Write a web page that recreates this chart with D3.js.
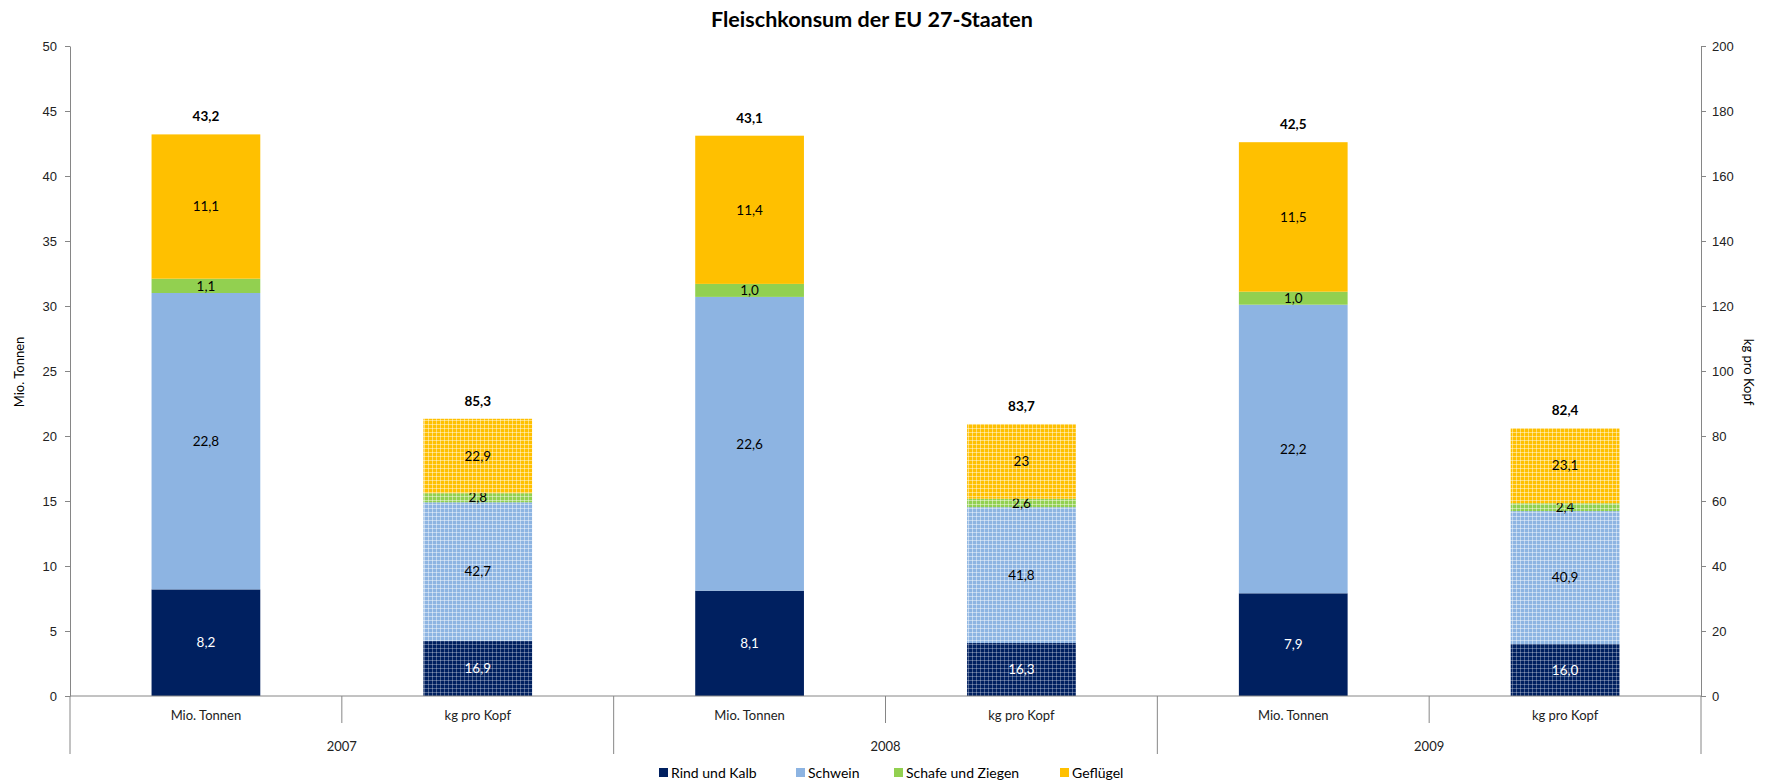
<!DOCTYPE html>
<html>
<head>
<meta charset="utf-8">
<script src="https://cdn.jsdelivr.net/npm/d3@7"></script>
<style>
	body { margin: 0; background: #fff; }
	svg { font-family: Lato, "Open Sans", sans-serif; }
	.axis path, .axis line { stroke: #868686; }
	.axis text { font-size: 13px; fill: #222; }
	.catlabel { font-size: 14px; }
</style>
</head>
<body>
<svg id="chart" width="1769" height="784"></svg>
<script>
// chart data
var years = ["2007", "2008", "2009"];
var measures = ["Mio. Tonnen", "kg pro Kopf"];
var seriesNames = ["Rind und Kalb", "Schwein", "Schafe und Ziegen", "Geflügel"];
// one value per bar: 2007 t, 2007 kg, 2008 t, 2008 kg, 2009 t, 2009 kg
var rindKalb     = [8.2, 16.9, 8.1, 16.3, 7.9, 16.0];
var schwein      = [22.8, 42.7, 22.6, 41.8, 22.2, 40.9];
var schafeZiegen = [1.1, 2.8, 1.0, 2.6, 1.0, 2.4];
var gefluegel    = [11.1, 22.9, 11.4, 23, 11.5, 23.1];
var totals       = [43.2, 85.3, 43.1, 83.7, 42.5, 82.4];
var leftTicks  = [0, 5, 10, 15, 20, 25, 30, 35, 40, 45, 50];
var rightTicks = [0, 20, 40, 60, 80, 100, 120, 140, 160, 180, 200];
// labels the source printed without a decimal (bar-series)
var wholeLabels = ["3-3"];

var colors = ["#002060", "#8DB4E2", "#92D050", "#FFC000"];

drawChart();

function drawChart() {
	var svg = d3.select("#chart");
	var left = 70, right = 1701, top = 46, bottom = 696, axisFoot = 754;

	var de = d3.formatLocale({decimal: ",", thousands: ".", grouping: [3], currency: ["", "€"]});
	var fmt = de.format(".1f");

	// build rows for the stack
	var serieArrays = [rindKalb, schwein, schafeZiegen, gefluegel];
	var rows = [];
	years.forEach(function(y, yi) {
		measures.forEach(function(m, mi) {
			var i = yi * measures.length + mi;
			var row = {idx: i, year: y, measure: m, kg: mi == 1, total: totals[i]};
			seriesNames.forEach(function(s, si) { row[s] = serieArrays[si][i]; });
			rows.push(row);
		});
	});

	var x = d3.scaleBand()
		.domain(rows.map(function(d) { return d.idx; }))
		.range([left, right])
		.paddingInner(0.6)
		.paddingOuter(0.3);
	var xYear = d3.scaleBand().domain(years).range([left, right]);

	var yLeft = d3.scaleLinear().domain([0, 50]).range([bottom, top]);
	var yRight = d3.scaleLinear().domain([0, 200]).range([bottom, top]);
	function yFor(d) { return d.kg ? yRight : yLeft; }

	// hatched patterns for the kg bars
	var defs = svg.append("defs");
	colors.forEach(function(c, i) {
		var p = defs.append("pattern")
			.attr("id", "pat" + i)
			.attr("patternUnits", "userSpaceOnUse")
			.attr("width", 4).attr("height", 4);
		p.append("rect").attr("width", 4).attr("height", 4).attr("fill", c);
		p.append("path")
			.attr("d", "M0,0.5H4M0.5,0V4")
			.attr("stroke", "#fff")
			.attr("stroke-opacity", i == 0 ? 0.3 : 0.45)
			.attr("stroke-width", 1);
	});

	var stack = d3.stack().keys(seriesNames);
	var layers = stack(rows);

	var g = svg.append("g");
	layers.forEach(function(layer, si) {
		g.selectAll(".seg" + si)
			.data(layer)
		  .enter()
			.append("rect")
			.attr("x", function(d) { return x(d.data.idx); })
			.attr("width", x.bandwidth())
			.attr("y", function(d) { return yFor(d.data)(d[1]); })
			.attr("height", function(d) { return yFor(d.data)(d[0]) - yFor(d.data)(d[1]); })
			.attr("fill", function(d) { return d.data.kg ? "url(#pat" + si + ")" : colors[si]; });

		g.selectAll(".lab" + si)
			.data(layer)
		  .enter()
			.append("text")
			.attr("x", function(d) { return x(d.data.idx) + x.bandwidth() / 2; })
			.attr("y", function(d) { return yFor(d.data)((d[0] + d[1]) / 2); })
			.attr("dy", "0.35em")
			.attr("text-anchor", "middle")
			.style("font-size", "13.5px")
			.attr("fill", si == 0 ? "#fff" : "#000")
			.text(function(d) {
				var v = d.data[seriesNames[si]];
				if (wholeLabels.indexOf(d.data.idx + "-" + si) >= 0) return String(v);
				return fmt(v);
			});
	});

	// totals on top
	g.selectAll(".total")
		.data(rows)
	  .enter()
		.append("text")
		.attr("x", function(d) { return x(d.idx) + x.bandwidth() / 2; })
		.attr("y", function(d) { return yFor(d)(d3.sum(seriesNames, function(s) { return d[s]; })) - 13; })
		.attr("text-anchor", "middle")
		.style("font-size", "13.5px")
		.style("font-weight", "bold")
		.text(function(d) { return fmt(d.total); });

	// axes
	svg.append("g")
		.attr("class", "axis")
		.attr("transform", "translate(" + left + ",0)")
		.call(d3.axisLeft(yLeft).tickValues(leftTicks).tickSize(5).tickSizeOuter(0).tickPadding(8));
	svg.append("g")
		.attr("class", "axis")
		.attr("transform", "translate(" + right + ",0)")
		.call(d3.axisRight(yRight).tickValues(rightTicks).tickSize(5).tickSizeOuter(0).tickPadding(6));

	// category axis with two levels
	var cat = svg.append("g").attr("class", "axis");
	cat.append("line")
		.attr("x1", left).attr("x2", right)
		.attr("y1", bottom).attr("y2", bottom);
	[left, right].forEach(function(xx) {
		cat.append("line").attr("x1", xx).attr("x2", xx).attr("y1", bottom).attr("y2", axisFoot);
	});
	years.forEach(function(y, yi) {
		var x0 = xYear(y);
		if (yi > 0) {
			cat.append("line").attr("x1", x0).attr("x2", x0).attr("y1", bottom).attr("y2", axisFoot);
		}
		var mid = x0 + xYear.bandwidth() / 2;
		cat.append("line").attr("x1", mid).attr("x2", mid).attr("y1", bottom).attr("y2", 723);
		cat.append("text")
			.attr("class", "catlabel")
			.attr("x", mid).attr("y", 746).attr("dy", "0.35em")
			.attr("text-anchor", "middle")
			.text(y);
	});
	cat.selectAll(".cl")
		.data(rows)
	  .enter()
		.append("text")
		.attr("class", "catlabel")
		.attr("x", function(d) { return x(d.idx) + x.bandwidth() / 2; })
		.attr("y", 715).attr("dy", "0.35em")
		.attr("text-anchor", "middle")
		.text(function(d) { return d.measure; });

	// axis titles
	svg.append("text")
		.attr("transform", "translate(19,372) rotate(-90)")
		.attr("text-anchor", "middle")
		.attr("dy", "0.35em")
		.style("font-size", "13px")
		.text("Mio. Tonnen");
	svg.append("text")
		.attr("transform", "translate(1749,372) rotate(90)")
		.attr("text-anchor", "middle")
		.attr("dy", "0.35em")
		.style("font-size", "13px")
		.text("kg pro Kopf");

	// title
	svg.append("text")
		.attr("x", 872).attr("y", 19).attr("dy", "0.35em")
		.attr("text-anchor", "middle")
		.style("font-size", "21.5px")
		.style("font-weight", "bold")
		.text("Fleischkonsum der EU 27-Staaten");

	// legend
	var legendX = [659, 796, 894, 1060];
	var legend = svg.selectAll(".legend")
		.data(seriesNames)
	  .enter()
		.append("g")
		.attr("class", "legend")
		.attr("transform", function(d, i) { return "translate(" + legendX[i] + ",773)"; });
	legend.append("rect")
		.attr("x", 0).attr("y", -5)
		.attr("width", 9).attr("height", 9)
		.attr("fill", function(d, i) { return colors[i]; });
	legend.append("text")
		.attr("x", 12).attr("dy", "0.35em")
		.style("font-size", "14px")
		.text(function(d) { return d; });
}
</script>
</body>
</html>
